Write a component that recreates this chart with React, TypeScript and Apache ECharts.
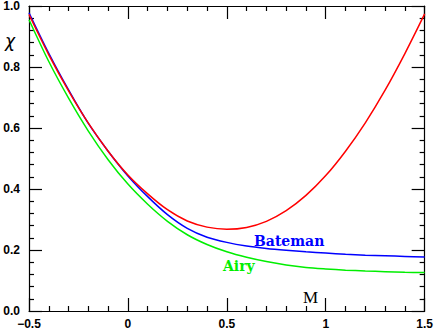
import React, { useEffect, useRef } from "react";
import * as echarts from "echarts";

const xs = [-0.5, -0.4, -0.3, -0.2, -0.1, 0, 0.1, 0.2, 0.3, 0.4, 0.5, 0.6, 0.7, 0.8, 0.9, 1.0, 1.1, 1.2, 1.3, 1.4, 1.5];
const redY = [0.972, 0.84, 0.722, 0.616, 0.524, 0.446, 0.384, 0.332, 0.295, 0.275, 0.268, 0.274, 0.294, 0.329, 0.379, 0.444, 0.524, 0.617, 0.724, 0.844, 0.974];
const blueY = [0.978, 0.845, 0.725, 0.615, 0.524, 0.443, 0.375, 0.316, 0.271, 0.242, 0.225, 0.213, 0.205, 0.199, 0.194, 0.19, 0.186, 0.183, 0.181, 0.179, 0.177];
const greenY = [0.955, 0.818, 0.698, 0.59, 0.496, 0.416, 0.35, 0.294, 0.25, 0.218, 0.194, 0.176, 0.162, 0.151, 0.143, 0.138, 0.134, 0.131, 0.129, 0.127, 0.126];
const xTicks = [-0.5, 0, 0.5, 1, 1.5];
const yTicks = [0, 0.2, 0.4, 0.6, 0.8, 1.0];

const pairs = (ys: number[]) => xs.map((x, i) => [x, ys[i]]);

export default function App() {
  const ref = useRef<HTMLDivElement>(null);
  useEffect(() => {
    if (!ref.current) return;
    const chart = echarts.init(ref.current, null, { renderer: "svg" });
    const tickCommon = {
      axisLine: { show: true, onZero: false, lineStyle: { color: "#000", width: 1.2 } },
      axisTick: { show: true, inside: true, length: 13, lineStyle: { color: "#000", width: 1.2 } },
      minorTick: { show: true, splitNumber: 5, length: 5, lineStyle: { color: "#000", width: 1.2 } },
      splitLine: { show: false },
      minorSplitLine: { show: false },
    };
    const labelFont = { fontFamily: "Liberation Sans", fontWeight: "bold" as const, fontSize: 12, color: "#000" };
    const xFmt = (v: number) => {
      if (!xTicks.some((t) => Math.abs(t - v) < 1e-9)) return "";
      if (Math.abs(v) < 1e-9) return "0";
      return (v < 0 ? "\u2212" : "") + String(Math.abs(v));
    };
    const yFmt = (v: number) => (yTicks.some((t) => Math.abs(t - v) < 1e-9) ? v.toFixed(1) : "");
    chart.setOption({
      animation: false,
      backgroundColor: "#fff",
      grid: { left: 29, right: 7, top: 5, bottom: 18, containLabel: false },
      xAxis: [
        {
          type: "value", min: -0.5, max: 1.5, interval: 0.5, position: "bottom",
          ...tickCommon,
          axisLabel: { ...labelFont, margin: 7, formatter: xFmt, showMinLabel: true, showMaxLabel: true },
        },
        {
          type: "value", min: -0.5, max: 1.5, interval: 0.5, position: "top",
          ...tickCommon,
          axisLabel: { show: false },
        },
      ],
      yAxis: [
        {
          type: "value", min: 0, max: 1, interval: 0.2, position: "left",
          ...tickCommon,
          axisLabel: { ...labelFont, margin: 9, formatter: yFmt, showMinLabel: true, showMaxLabel: true },
        },
        {
          type: "value", min: 0, max: 1, interval: 0.2, position: "right",
          ...tickCommon,
          axisLabel: { show: false },
        },
      ],
      series: [
        { type: "line", name: "Airy", data: pairs(greenY), smooth: 0.3, showSymbol: false, lineStyle: { color: "#00ee00", width: 1.5 }, z: 2 },
        { type: "line", name: "Bateman", data: pairs(blueY), smooth: 0.3, showSymbol: false, lineStyle: { color: "#0000ff", width: 1.5 }, z: 3 },
        { type: "line", name: "Red", data: pairs(redY), smooth: 0.3, showSymbol: false, lineStyle: { color: "#ff0000", width: 1.5 }, z: 4 },
      ],
      graphic: [
        { type: "text", left: 5, top: 32, style: { text: "\u03c7", font: "italic 17px 'DejaVu Sans'", fill: "#000" } },
        { type: "text", left: 303, top: 289, style: { text: "M", font: "17px 'Liberation Serif'", fill: "#000" } },
        { type: "text", left: 254, top: 234, style: { text: "Bateman", font: "bold 14px 'DejaVu Serif'", fill: "#0000ff" } },
        { type: "text", left: 223, top: 259, style: { text: "Airy", font: "bold 14px 'DejaVu Serif'", fill: "#00ee00" } },
      ],
    });
    return () => chart.dispose();
  }, []);
  return <div ref={ref} style={{ position: "fixed", left: 0, top: 0, width: 436, height: 330 }} />;
}
